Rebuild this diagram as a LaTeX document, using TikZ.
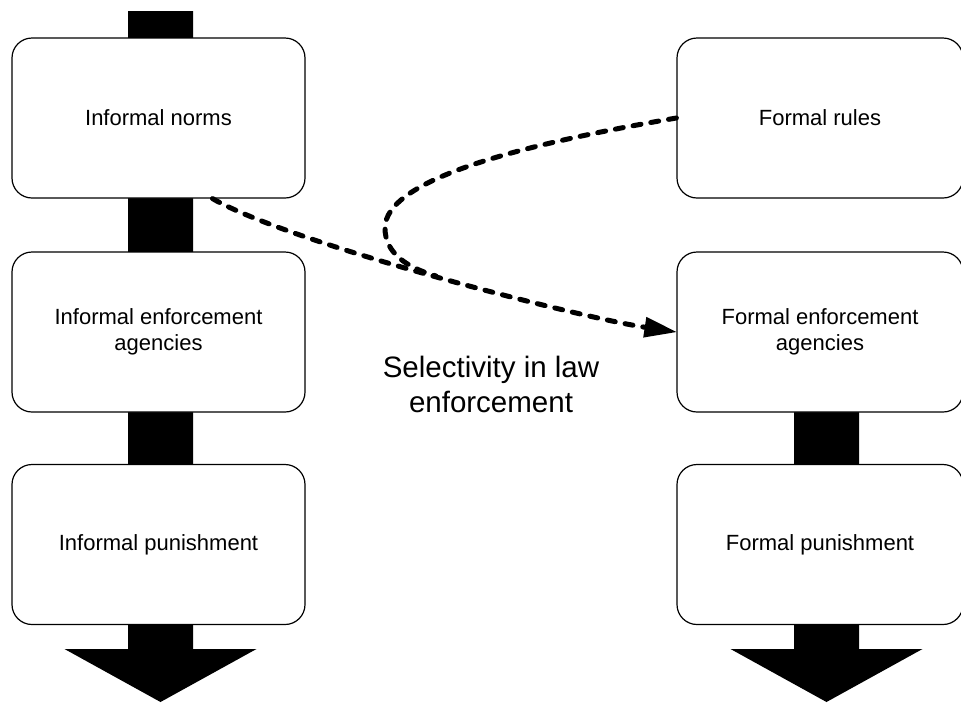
\documentclass[tikz,border=0pt]{standalone}
\usepackage{fontspec}
\setmainfont{Liberation Sans}
\usetikzlibrary{arrows.meta,calc}
\newcommand\bigflow[3]{{%
  \fill ({#1-32.5},#2) -- ({#1+32.5},#2) -- ({#1+32.5},{#3-53}) -- ({#1+96},{#3-53})
        -- (#1,#3) -- ({#1-96},{#3-53}) -- ({#1-32.5},{#3-53}) -- cycle;}}

\begin{document}
\begin{tikzpicture}[x=1pt,y=-1pt,line width=1.2pt,>=Stealth,
  stage/.style={draw,fill=white,rounded corners=20pt,minimum width=293pt,minimum height=160pt,
    align=center,font=\fontsize{22}{25.5}\selectfont},
  link/.style={line width=5pt,dash pattern=on 8pt off 10pt,line cap=round}]
\useasboundingbox (0,0) rectangle (961,702);
% ---------- big flow arrows ----------
\bigflow{160.5}{11}{702}
\bigflow{826.5}{332}{702}
% ---------- informal side ----------
\node[stage] (inorms) at (158.5,118) {Informal norms};
\node[stage] (ienf) at (158.5,332) {Informal enforcement\\agencies};
\node[stage] (ipun) at (158.5,544.5) {Informal punishment};
% ---------- formal side ----------
\node[stage,minimum width=286pt] (frules) at (820,118) {Formal rules};
\node[stage,minimum width=286pt] (fenf) at (820,332) {Formal enforcement\\agencies};
\node[stage,minimum width=286pt] (fpun) at (820,544.5) {Formal punishment};
\node[font=\fontsize{29.5}{35}\selectfont,align=center] (sel) at (491,384) {Selectivity in law\\enforcement};
% ---------- dashed links ----------
\coordinate (turn) at (385,228);
\coordinate (merge) at (436,276);
\draw[link,-{Triangle[length=32pt,width=21pt,line width=0pt]}] ([xshift=54pt]inorms.south)
  .. controls +(78,45) and +(-99,-15) .. (fenf.west);
\draw[link] (frules.west) .. controls +(-158,27) and +(0,-48) .. (turn)
  .. controls +(0,24) and +(-31,-9) .. (merge);
\end{tikzpicture}
\end{document}
